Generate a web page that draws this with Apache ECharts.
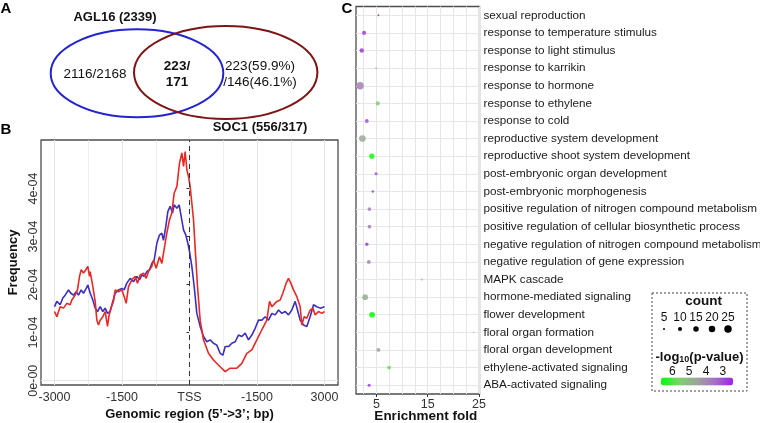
<!DOCTYPE html>
<html><head><meta charset="utf-8">
<script src="https://cdn.jsdelivr.net/npm/echarts@6/dist/echarts.min.js"></script>
<style>html,body{margin:0;padding:0;background:#fff}#c{width:760px;height:423px}</style>
</head><body><div id="c"></div>
<script>
// ---------- Panel B data (position in bp, frequency in units of 1e-4) ----------
const agl16Pos = [-3000,-2948,-2874,-2800,-2726,-2652,-2615,-2541,-2489,-2444,-2407,-2356,-2296,-2259,-2222,-2207,-2148,-2096,-2059,-2022,-1985,-1926,-1874,-1822,-1793,-1748,-1689,-1652,-1578,-1504,-1452,-1407,-1356,-1281,-1207,-1156,-1096,-1022,-963,-911,-837,-800,-741,-667,-615,-578,-504,-444,-393,-341,-281,-222,-170,-133,-96,-59,-22,15,89,133,178,237,311,422,533,681,793,904,1052,1163,1274,1385,1496,1607,1719,1778,1830,1941,2015,2074,2148,2200,2252,2311,2385,2459,2496,2548,2607,2681,2741,2793,2867,2941,3000];
const agl16Val = [1.44,1.33,1.54,1.51,1.61,1.58,1.68,1.78,1.89,2.17,2.31,2.24,2.32,2.38,2.17,2.27,1.96,1.65,1.26,1.16,1.26,1.33,1.44,1.13,1.33,1.51,1.65,1.89,1.85,1.89,1.75,1.61,1.96,2.10,2.17,2.03,2.20,2.24,2.13,2.27,2.38,2.51,2.34,2.58,2.44,2.65,3.07,3.35,3.49,3.90,4.04,4.53,4.74,4.46,4.77,4.39,4.25,4.04,3.35,2.65,1.96,1.26,0.85,0.57,0.43,0.29,0.19,0.26,0.26,0.36,0.57,0.64,0.85,1.06,1.26,1.65,1.54,1.65,1.68,1.82,2.03,2.13,2.03,1.89,1.75,1.54,1.16,1.33,1.30,1.47,1.51,1.37,1.44,1.40,1.44];
const soc1Pos = [-3000,-2948,-2874,-2815,-2763,-2689,-2637,-2578,-2519,-2467,-2407,-2356,-2296,-2259,-2207,-2148,-2096,-2044,-1985,-1926,-1874,-1822,-1763,-1704,-1652,-1578,-1504,-1452,-1393,-1319,-1244,-1170,-1111,-1059,-1007,-948,-889,-837,-785,-726,-667,-615,-578,-526,-481,-430,-378,-341,-281,-230,-185,-133,-81,-37,0,52,104,163,237,311,385,459,533,607,681,741,793,867,941,1015,1089,1163,1237,1311,1385,1459,1533,1607,1681,1756,1830,1904,1978,2052,2126,2200,2274,2348,2400,2459,2533,2607,2681,2756,2830,2904,3000];
const soc1Val = [1.54,1.65,1.58,1.72,1.78,1.89,1.82,1.78,1.85,1.78,1.89,1.82,1.92,1.99,1.82,1.68,1.51,1.44,1.54,1.44,1.51,1.40,1.44,1.65,1.82,1.89,1.92,1.89,2.03,2.13,2.06,2.17,2.10,2.20,2.17,2.27,2.31,2.44,2.51,2.86,3.03,3.07,2.92,3.21,3.52,3.63,3.49,3.66,3.59,3.66,3.42,3.14,3.03,2.86,2.69,2.38,1.96,1.40,1.13,0.92,0.81,0.85,0.78,0.74,0.57,0.53,0.71,0.71,0.78,0.81,0.95,0.92,0.99,0.85,0.95,1.09,1.26,1.26,1.33,1.26,1.40,1.37,1.47,1.40,1.44,1.37,1.47,1.65,1.47,1.26,1.16,1.13,1.33,1.58,1.54,1.51,1.54];
const bXTicks = [-3000,-1500,0,1500,3000];
const bXTickLabels = ['-3000','-1500','TSS','-1500','3000'];
const bYTicks = [0,1,2,3,4];
const bYTickLabels = ['0e-00','1e-04','2e-04','3e-04','4e-04'];

// ---------- Panel C data ----------
const goTerms = ['sexual reproduction','response to temperature stimulus','response to light stimulus','response to karrikin','response to hormone','response to ethylene','response to cold','reproductive system development','reproductive shoot system development','post-embryonic organ development','post-embryonic morphogenesis','positive regulation of nitrogen compound metabolism','positive regulation of cellular biosynthetic process','negative regulation of nitrogen compound metabolism','negative regulation of gene expression','MAPK cascade','hormone-mediated signaling','flower development','floral organ formation','floral organ development','ethylene-activated signaling','ABA-activated signaling'];
const enrichFold = [5.37,2.58,2.13,4.92,1.80,5.25,3.11,2.25,4.08,4.92,4.28,3.62,3.62,3.11,3.50,13.83,2.78,4.14,24.0,5.37,7.46,3.56];
const geneCount = [5,10,11,4,24,10,9,20,14,7,6,9,9,8,9,5,16,16,4,9,9,7];
const negLog10P = [2.6,2.8,2.7,2.6,3.8,5.5,3.0,4.7,6.5,3.0,2.9,3.8,3.8,2.8,3.7,5.5,4.8,6.67,4.3,4.3,5.8,2.7];
const cXTicks = [5,15,25];
const countLegend = [5,10,15,20,25];
const pLegendTicks = [6,5,4,3];
const pRange = [2.4,6.67];

// ---------- Panel A (Venn) texts ----------
const vennTexts = {agl:'AGL16 (2339)', soc:'SOC1 (556/317)', left:'2116/2168', mid1:'223/', mid2:'171', right1:'223(59.9%)', right2:'/146(46.1%)'};

const FONT = '"Liberation Sans", Arial, sans-serif';
const sizeOf = c => Math.sqrt(Math.max(1, 2.6*c - 9));
const gridColor = '#e6e6e6';

function mlSeries(opts){
  return Object.assign({type:'line', data:[], silent:true, z:1,
    markLine:{silent:true, symbol:'none', animation:false, z:opts.z||1, label:{show:false},
      lineStyle:{color:opts.color||gridColor, width:opts.width||1, type:opts.type||'solid'},
      data: opts.data}}, opts.base);
}

const bMinorX = [-2250,-750,750,2250];
const bMajorX = bXTicks;
const bMinorY = [0.5,1.5,2.5,3.5,4.5].map(v=>v*1e-4);
const bMajorY = bYTicks.map(v=>v*1e-4);
const cGridX = []; for (let v=2.5; v<=25.01; v+=2.5) cGridX.push(v);

const chart = echarts.init(document.getElementById('c'), null, {renderer:'canvas'});
const option = {
  animation:false,
  backgroundColor:'#fff',
  textStyle:{fontFamily:FONT},
  grid:[
    {left:41, top:140, width:297, height:245, show:true, borderColor:'#4d4d4d', borderWidth:1.3, backgroundColor:'transparent', outerBoundsMode:'none', containLabel:false},
    {left:356, top:6.5, width:123.5, height:387.5, show:true, borderColor:'#4d4d4d', borderWidth:1.3, backgroundColor:'transparent', outerBoundsMode:'none', containLabel:false}
  ],
  xAxis:[
    {type:'value', gridIndex:0, min:-3300, max:3300, axisLine:{show:false}, splitLine:{show:false},
     axisTick:{show:true, customValues:bXTicks, length:3, lineStyle:{color:'#333'}},
     axisLabel:{customValues:bXTicks, formatter:v=>bXTickLabels[bXTicks.indexOf(v)], fontSize:12.5, color:'#333', margin:6, fontFamily:FONT},
     name:'Genomic region (5\u2019->3\u2019; bp)', nameLocation:'middle', nameGap:23, nameMoveOverlap:false,
     nameTextStyle:{fontWeight:'bold', fontSize:13, color:'#111', fontFamily:FONT, verticalAlign:'top'}},
    {type:'value', gridIndex:1, min:1, max:25.1, axisLine:{show:false}, splitLine:{show:false},
     axisTick:{show:true, customValues:cXTicks, length:3, lineStyle:{color:'#333'}},
     axisLabel:{customValues:cXTicks, fontSize:12.5, color:'#333', margin:4, fontFamily:FONT},
     name:'Enrichment fold', nameLocation:'middle', nameGap:15, nameMoveOverlap:false,
     nameTextStyle:{fontWeight:'bold', fontSize:13.5, color:'#111', fontFamily:FONT, verticalAlign:'top', padding:[0,0,0,16]}}
  ],
  yAxis:[
    {type:'value', gridIndex:0, min:-0.09e-4, max:5.01e-4, axisLine:{show:false}, splitLine:{show:false},
     axisTick:{show:true, customValues:bMajorY, length:3, lineStyle:{color:'#333'}},
     axisLabel:{customValues:bMajorY, rotate:90, formatter:v=>bYTickLabels[Math.round(v*1e4)], fontSize:12.5, color:'#333', margin:1, fontFamily:FONT},
     name:'Frequency', nameLocation:'middle', nameGap:21, nameMoveOverlap:false,
     nameTextStyle:{fontWeight:'bold', fontSize:13, color:'#111', fontFamily:FONT}},
    {type:'category', gridIndex:1, data:goTerms, inverse:true, position:'right',
     axisLine:{show:false}, axisTick:{show:false}, splitLine:{show:false},
     axisLabel:{fontSize:11.7, color:'#1a1a1a', margin:4, fontFamily:FONT}}
  ],
  visualMap:[{
    type:'continuous', seriesIndex:6, dimension:3, min:pRange[0], max:pRange[1],
    orient:'horizontal', inverse:true, left:661, top:377.5, itemWidth:8, itemHeight:72,
    calculable:false, hoverLink:false, padding:0, text:null, showLabel:false,
    inRange:{color:['#a020f0','#a670c7','#9da49c','#7ed26b','#00ff00']}
  }],
  series:[
    mlSeries({color:gridColor, width:0.7, base:{xAxisIndex:0, yAxisIndex:0},
      data: bMinorX.map(v=>({xAxis:v})).concat(bMinorY.map(v=>({yAxis:v})))}),
    mlSeries({color:gridColor, width:1.1, base:{xAxisIndex:0, yAxisIndex:0},
      data: bMajorX.map(v=>({xAxis:v})).concat(bMajorY.map(v=>({yAxis:v})))}),
    {type:'line', name:'SOC1', xAxisIndex:0, yAxisIndex:0, z:3, symbol:'none',
     data: soc1Pos.map((p,i)=>[p, soc1Val[i]*1e-4]),
     lineStyle:{color:'#3a2fbf', width:1.6}, itemStyle:{color:'#3a2fbf'},
     markPoint:{symbol:'circle', symbolSize:1, itemStyle:{opacity:0}, silent:true,
       label:{show:true, position:'inside', formatter:'SOC1', color:'#3a2fbf', fontWeight:'bold', fontSize:13, fontFamily:FONT},
       data:[{coord:[-948, 3.73e-4]}]}},
    {type:'line', name:'AGL16', xAxisIndex:0, yAxisIndex:0, z:4, symbol:'none',
     data: agl16Pos.map((p,i)=>[p, agl16Val[i]*1e-4]),
     lineStyle:{color:'#e52a26', width:1.6}, itemStyle:{color:'#e52a26'},
     markPoint:{symbol:'circle', symbolSize:1, itemStyle:{opacity:0}, silent:true,
       label:{show:true, position:'inside', formatter:'AGL16', color:'#e52a26', fontWeight:'bold', fontSize:13, fontFamily:FONT},
       data:[{coord:[525, 4.62e-4]}]}},
    mlSeries({color:'#333', width:1, type:[5,4], z:6, base:{xAxisIndex:0, yAxisIndex:0, z:5},
      data:[{xAxis:0}]}),
    mlSeries({color:gridColor, width:1, base:{type:'scatter', xAxisIndex:1, yAxisIndex:1},
      data: cGridX.map(v=>({xAxis:v})).concat(goTerms.map(t=>({yAxis:t})))}),
    {type:'scatter', xAxisIndex:1, yAxisIndex:1, z:8,
     data: goTerms.map((t,i)=>[enrichFold[i], t, geneCount[i], negLog10P[i]]),
     symbolSize: v => sizeOf(v[2]),
     itemStyle:{opacity:0.85}}
  ],
  graphic:[]
};

// Venn diagram (panel A)
const G = [];
G.push({type:'ellipse', shape:{cx:137, cy:73.3, rx:86.3, ry:44}, style:{fill:'none', stroke:'#2424cf', lineWidth:2}});
G.push({type:'ellipse', shape:{cx:225.7, cy:72.5, rx:91.7, ry:46.5}, style:{fill:'none', stroke:'#7d1515', lineWidth:2}});
function txt(t, x, y, size, bold, color, align){
  return {type:'text', x:x, y:y, silent:true, style:{text:t, fill:color||'#111', font:(bold?'bold ':'')+size+'px '+FONT, textAlign:align||'center', textVerticalAlign:'middle', verticalAlign:'middle'}};
}
G.push(txt(vennTexts.agl, 115, 17.5, 13, true));
G.push(txt(vennTexts.left, 95, 74, 13.5, false));
G.push(txt(vennTexts.mid1, 177, 66.7, 13.5, true));
G.push(txt(vennTexts.mid2, 177, 82, 13.5, true));
G.push(txt(vennTexts.right1, 260, 66.7, 13.5, false));
G.push(txt(vennTexts.right2, 260, 82, 13.5, false));
G.push(txt(vennTexts.soc, 260, 127, 13, true));
// panel letters
G.push(txt('A', 6, 9, 15, true, '#000'));
G.push(txt('B', 6, 130, 15, true, '#000'));
G.push(txt('C', 347, 9, 15, true, '#000'));
// Panel C legend
G.push({type:'rect', shape:{x:652, y:293, width:95, height:98}, style:{fill:'none', stroke:'#444', lineWidth:1, lineDash:[2,2]}});
G.push(txt('count', 703.5, 301, 13.5, true, '#111'));
countLegend.forEach((c,i)=>{
  const x = 664 + i*16;
  G.push(txt(String(c), x, 317.5, 12, false, '#111'));
  G.push({type:'circle', shape:{cx:x, cy:329, r:sizeOf(c)/2}, style:{fill:'#000'}});
});
G.push({type:'text', x:699.5, y:357, silent:true, style:{text:'-log{s|10}(p-value)', fill:'#111', font:'bold 13px '+FONT, textAlign:'center', textVerticalAlign:'middle', verticalAlign:'middle',
  rich:{s:{fontSize:9, fontWeight:'bold', fontFamily:FONT, fill:'#111', padding:[5,0,0,0]}}}});
const barL = 661, barLen = 72;
pLegendTicks.forEach(v=>{
  const x = barL + (pRange[1]-v)/(pRange[1]-pRange[0])*barLen;
  G.push(txt(String(v), x, 371.5, 12, false, '#111'));
});
option.graphic = G;
chart.setOption(option);
</script></body></html>
